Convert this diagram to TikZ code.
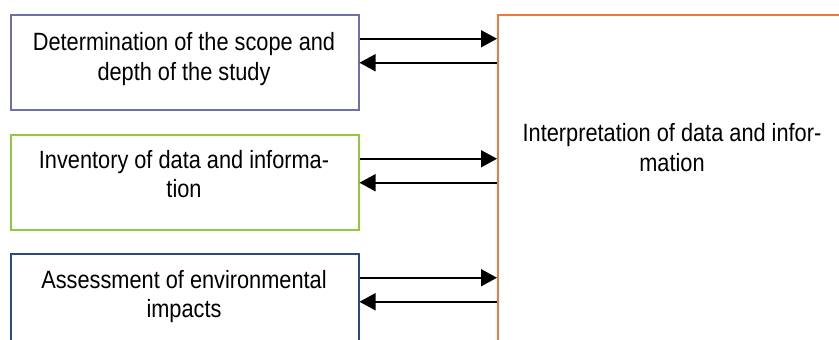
\documentclass[tikz,border=0pt]{standalone}
\usepackage{fontspec}
\setmainfont{Liberation Sans}[FakeStretch=0.87]
\usetikzlibrary{arrows.meta}
\definecolor{cpurple}{HTML}{7070A8}
\definecolor{cgreen}{HTML}{92C83E}
\definecolor{cnavy}{HTML}{2A4A80}
\definecolor{corange}{HTML}{F07838}
\tikzset{
  boxstyle/.style={draw, line width=1.5pt, minimum width=348pt, minimum height=95pt, inner sep=0pt, anchor=north west},
  lbl/.style={align=center, inner sep=0pt, anchor=base, font=\fontsize{25}{29.5}\selectfont},
  arr/.style={line width=1.6pt, -{Triangle[length=16pt,width=17pt]}}
}
\begin{document}
\begin{tikzpicture}[x=1pt,y=-1pt]
\useasboundingbox (0,0) rectangle (839,340);
\clip (0,0) rectangle (839,340);
\node[boxstyle, draw=cpurple] (b1) at (10,14) {};
\node[boxstyle, draw=cgreen] (b2) at (10,134) {};
\node[boxstyle, draw=cnavy] (b3) at (10,253) {};
\node[draw=corange, line width=1.5pt, minimum width=400pt, minimum height=400pt, inner sep=0pt, anchor=north west] (or) at (497,14) {};
\node[lbl] (t1) at (184,80.2) {Determination of the scope and\\depth of the study};
\node[lbl] (t2) at (184,197.8) {Inventory of data and informa-\\tion};
\node[lbl] (t3) at (184,317.8) {Assessment of environmental\\impacts};
\node[lbl] (t4) at (672,171.2) {Interpretation of data and infor-\\mation};
\foreach \b in {b1,b2,b3}{
  \coordinate (\b f) at ([yshift=23.5pt]\b.east);
  \coordinate (\b r) at ([yshift=-0.5pt]\b.east);
  \draw[arr] (\b f) -- (\b f -| or.west);
  \draw[arr] (\b r -| or.west) -- (\b r);
}
\end{tikzpicture}
\end{document}
